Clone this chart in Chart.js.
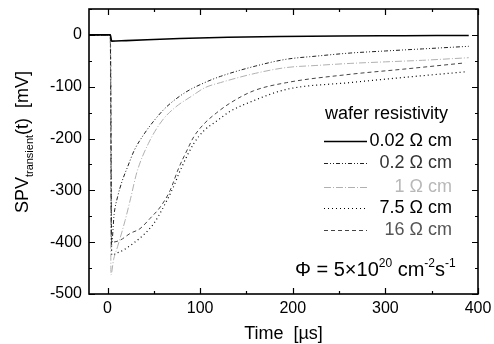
<!DOCTYPE html>
<html>
<head>
<meta charset="utf-8">
<script src="https://cdn.jsdelivr.net/npm/chart.js@4"></script>
<style>
  html, body { margin: 0; padding: 0; background: #fff; }
  #wrap { width: 494px; height: 344px; }
</style>
</head>
<body>
<div id="wrap"><canvas id="spvChart" width="494" height="344"></canvas></div>
<script>
// tick labels
const xTicks = [0, 100, 200, 300, 400];
const yTicks = [-500, -400, -300, -200, -100, 0];
const xMinor = [0, 50, 100, 150, 200, 250, 300, 350, 400];
const yMinor = [-500, -450, -400, -350, -300, -250, -200, -150, -100, -50, 0, 50];

// legend labels (wafer resistivity)
const labels = ["0.02 Ω cm", "0.2 Ω cm", "1 Ω cm", "7.5 Ω cm", "16 Ω cm"];

// time [µs] and SPV [mV]
const t002 = [-20, 3, 4.5, 20, 78, 130, 186, 250, 320, 390];
const v002 = [0, 0, -12, -11, -7, -4.5, -3, -2, -1.5, -1];

const t02 = [-20, 3, 4.3, 7.2, 10.8, 16, 21.6, 28.8, 39.6, 50, 63, 84, 105, 122, 160, 193, 225, 262, 300, 340, 390];
const v02 = [0, 0, -405, -345, -313, -281, -255, -223, -191, -166, -140, -111, -92, -80, -60, -47, -41, -35, -31, -27, -22];

const t1 = [-20, 3, 3.7, 6.5, 10.8, 19, 25, 31.7, 44, 58.7, 73, 91, 105, 122, 160, 193, 225, 262, 300, 340, 390];
const v1 = [0, 0, -463, -434, -409, -358, -315, -265, -210, -166, -140, -118, -102, -92, -74, -63, -59, -55, -52, -49, -44];

const t75 = [-20, 3, 4.5, 10, 17.3, 28, 38.8, 50, 60.4, 71, 78.4, 93, 104, 118, 132, 157.5, 193.5, 262, 320, 388];
const v75 = [0, 0, -425, -421, -415, -402, -386, -364, -332, -294, -262, -210, -185, -166, -148, -127, -105, -92, -82, -71];

const t16 = [-20, 3, 4.5, 13.7, 24.5, 35, 46, 57, 67.6, 76.6, 86, 93, 104, 118, 132, 157.5, 193.5, 262, 320, 386];
const v16 = [0, 0, -400, -396, -383, -374, -354, -332, -300, -258, -222, -197, -172, -150, -132, -108, -92, -76, -66, -54];

const FONT = 'Arial, "Liberation Sans", Helvetica, sans-serif';

// line styles for each curve
const colors = ["#000000", "#222222", "#b0b0b0", "#000000", "#444444"];
const dashes = [[], [4, 2, 1, 2, 1, 2], [7, 2, 1, 2], [1, 3], [4, 3]];
const widths = [1.6, 1, 1, 1.2, 1];
const textColors = ["#000000", "#333333", "#b8b8b8", "#000000", "#555555"];

function toPoints(t, v) {
    return t.map((x, i) => ({ x: x, y: v[i] }));
}

const seriesData = [
    toPoints(t002, v002),
    toPoints(t02, v02),
    toPoints(t1, v1),
    toPoints(t75, v75),
    toPoints(t16, v16)
];

// no extra label padding, so the plot area stays where the padding puts it
function noPad(axis) {
    axis.paddingTop = 0;
    axis.paddingBottom = 0;
    axis.paddingLeft = 0;
    axis.paddingRight = 0;
}

// frame, inward ticks on all four sides, legend and labels
const decorations = {
    id: "decorations",
    afterDraw(chart) {
        const ctx = chart.ctx;
        const area = chart.chartArea;
        const xs = chart.scales.x;
        const ys = chart.scales.y;
        ctx.save();

        // ticks
        ctx.strokeStyle = "#000";
        ctx.lineWidth = 1.2;
        ctx.setLineDash([]);
        ctx.beginPath();
        xMinor.forEach(v => {
            const px = Math.round(xs.getPixelForValue(v)) + 0.5;
            const len = xTicks.includes(v) ? 6 : 3;
            ctx.moveTo(px, area.bottom); ctx.lineTo(px, area.bottom - len);
            ctx.moveTo(px, area.top); ctx.lineTo(px, area.top + len);
        });
        yMinor.forEach(v => {
            const py = Math.round(ys.getPixelForValue(v)) + 0.5;
            const len = yTicks.includes(v) ? 6 : 3;
            ctx.moveTo(area.left, py); ctx.lineTo(area.left + len, py);
            ctx.moveTo(area.right, py); ctx.lineTo(area.right - len, py);
        });
        ctx.stroke();

        // frame
        ctx.lineWidth = 1.6;
        ctx.strokeRect(area.left, area.top, area.right - area.left, area.bottom - area.top);

        // legend
        ctx.textBaseline = "middle";
        ctx.font = "18px " + FONT;
        ctx.fillStyle = "#000";
        ctx.textAlign = "left";
        ctx.fillText("wafer resistivity", 325, 114);
        const rowY = [141, 163, 187, 208, 230];
        labels.forEach((lab, i) => {
            ctx.beginPath();
            ctx.strokeStyle = colors[i];
            ctx.lineWidth = widths[i];
            ctx.setLineDash(dashes[i]);
            ctx.moveTo(324, rowY[i] + 0.5);
            ctx.lineTo(367, rowY[i] + 0.5);
            ctx.stroke();
            ctx.setLineDash([]);
            ctx.fillStyle = textColors[i];
            ctx.textAlign = "right";
            ctx.fillText(lab, 452, rowY[i]);
        });

        // flux annotation
        ctx.fillStyle = "#000";
        ctx.textAlign = "left";
        ctx.textBaseline = "alphabetic";
        let x = 295;
        const base = 276;
        const parts = [
            ["Φ = 5×10", 20, 0], ["20", 12, -9], [" cm", 20, 0], ["-2", 12, -9], ["s", 20, 0], ["-1", 12, -9]
        ];
        parts.forEach(p => {
            ctx.font = p[1] + "px " + FONT;
            ctx.fillText(p[0], x, base + p[2]);
            x += ctx.measureText(p[0]).width;
        });

        // x axis title
        ctx.font = "18px " + FONT;
        ctx.textAlign = "center";
        ctx.fillText("Time  [µs]", (area.left + area.right) / 2, 339);

        // y axis title, rotated, with subscript
        const yParts = [["SPV", 18, 0], ["transient", 11, 5], ["(t)  [mV]", 18, 0]];
        let total = 0;
        yParts.forEach(p => { ctx.font = p[1] + "px " + FONT; total += ctx.measureText(p[0]).width; });
        ctx.translate(28, 142);
        ctx.rotate(-Math.PI / 2);
        ctx.textAlign = "left";
        let tx = -total / 2;
        yParts.forEach(p => {
            ctx.font = p[1] + "px " + FONT;
            ctx.fillText(p[0], tx, p[2]);
            tx += ctx.measureText(p[0]).width;
        });
        ctx.restore();
    }
};

function createChart() {
    const ctx = document.getElementById("spvChart").getContext("2d");
    window.spvChart = new Chart(ctx, {
        type: "line",
        data: {
            datasets: seriesData.map((pts, i) => ({
                label: labels[i],
                data: pts,
                borderColor: colors[i],
                borderWidth: widths[i],
                borderDash: dashes[i],
                pointRadius: 0,
                cubicInterpolationMode: "monotone",
                fill: false
            }))
        },
        options: {
            responsive: false,
            animation: false,
            layout: { padding: { left: 0, right: 16, top: 9, bottom: 0 } },
            plugins: {
                legend: { display: false },
                tooltip: { enabled: false }
            },
            scales: {
                x: {
                    type: "linear",
                    min: -20,
                    max: 400,
                    grid: { display: false, drawTicks: false },
                    border: { display: false },
                    afterBuildTicks: axis => { axis.ticks = xTicks.map(v => ({ value: v })); },
                    afterFit: axis => { axis.height = 50; noPad(axis); },
                    ticks: {
                        color: "#000",
                        font: { family: FONT, size: 16 },
                        padding: 5,
                        maxRotation: 0
                    }
                },
                y: {
                    type: "linear",
                    min: -500,
                    max: 50,
                    grid: { display: false, drawTicks: false },
                    border: { display: false },
                    afterBuildTicks: axis => { axis.ticks = yTicks.map(v => ({ value: v })); },
                    afterFit: axis => { axis.width = 89; noPad(axis); },
                    ticks: {
                        color: "#000",
                        font: { family: FONT, size: 16 },
                        padding: 7
                    }
                }
            }
        },
        plugins: [decorations]
    });
}

createChart();
</script>
</body>
</html>
